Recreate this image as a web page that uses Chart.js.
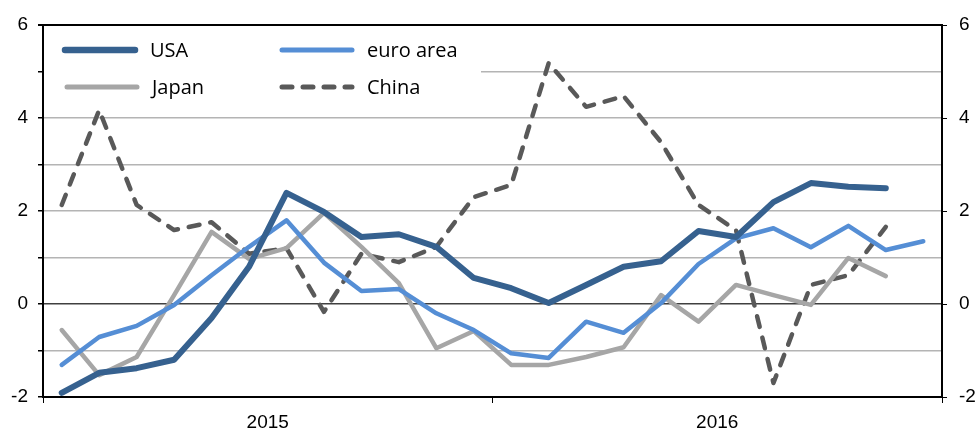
<!DOCTYPE html>
<html>
<head>
<meta charset="utf-8">
<script src="https://cdn.jsdelivr.net/npm/chart.js@4.4.1/dist/chart.umd.min.js"></script>
<style>
  html, body { margin:0; padding:0; background:#fff; }
  #wrap { width:980px; height:433px; }
</style>
</head>
<body>
<div id="wrap"><canvas id="chartGrowth" width="980" height="433"></canvas></div>
<script>
// monthly, Jan 2015 .. Dec 2016
const months = [
    "Jan 15","Feb 15","Mar 15","Apr 15","May 15","Jun 15",
    "Jul 15","Aug 15","Sep 15","Oct 15","Nov 15","Dec 15",
    "Jan 16","Feb 16","Mar 16","Apr 16","May 16","Jun 16",
    "Jul 16","Aug 16","Sep 16","Oct 16","Nov 16","Dec 16"
];

const years = ["2015","2016"];

const usa = [
    -1.91,-1.48,-1.38,-1.20,-0.30,0.80,2.39,1.98,1.44,1.50,1.23,0.56,
    0.34,0.02,0.41,0.80,0.92,1.57,1.44,2.19,2.60,2.52,2.49,null
];

const euroArea = [
    -1.31,-0.71,-0.47,-0.02,0.62,1.23,1.80,0.89,0.28,0.32,-0.20,-0.56,
    -1.06,-1.16,-0.38,-0.62,0.02,0.86,1.41,1.63,1.22,1.68,1.16,1.35
];

const japan = [
    -0.56,-1.53,-1.14,0.19,1.55,0.97,1.20,1.96,1.23,0.45,-0.95,-0.58,
    -1.31,-1.31,-1.14,-0.93,0.19,-0.38,0.41,0.19,-0.02,0.99,0.60,null
];

const china = [
    2.13,4.17,2.13,1.59,1.76,1.08,1.20,-0.17,1.08,0.90,1.23,2.30,
    2.56,5.18,4.24,4.47,3.48,2.13,1.59,-1.70,0.41,0.62,1.66,null
];

const yTicks = [-2,0,2,4,6];

function toPoints(arr){
    return arr.map((v,i)=>({x:i,y:v}));
}

const series = [
    {label:"USA", data:usa, color:"#36618f", width:6, dash:[]},
    {label:"euro area", data:euroArea, color:"#558ed5", width:4.5, dash:[]},
    {label:"Japan", data:japan, color:"#a6a6a6", width:4.5, dash:[]},
    {label:"China", data:china, color:"#595959", width:4.5, dash:[11,11]}
];

// legend drawn inside plot, white box over gridlines
const boxLegend = {
    id:"boxLegend",
    beforeDatasetsDraw(chart){
        const c = chart.ctx;
        const a = chart.chartArea;
        c.save();
        c.fillStyle = "#fff";
        c.fillRect(a.left+1, a.top+1, 437, 78);

        const items = [
            {s:series[0], x:65, y:50},
            {s:series[1], x:282, y:50},
            {s:series[2], x:67, y:87},
            {s:series[3], x:282, y:87}
        ];

        items.forEach(it=>{
            c.beginPath();
            c.lineWidth = it.s.width + 0.5;
            c.lineCap = "round";
            c.strokeStyle = it.s.color;
            c.setLineDash(it.s.dash.length ? [10,11] : []);
            c.moveTo(it.x, it.y);
            c.lineTo(it.x + 70, it.y);
            c.stroke();
            c.setLineDash([]);
            c.fillStyle = "#000";
            c.font = "20px 'Open Sans'";
            c.textBaseline = "middle";
            c.fillText(it.s.label, it.x + 85, it.y + 1);
        });
        c.restore();
    }
};

const canvas = document.getElementById("chartGrowth");

new Chart(canvas,{
    type:"line",
    data:{
        datasets:series.map(s=>({
            label:s.label,
            data:toPoints(s.data),
            borderColor:s.color,
            borderWidth:s.width,
            borderDash:s.dash,
            borderCapStyle:"round",
            borderJoinStyle:"round",
            pointRadius:0,
            tension:0,
            spanGaps:false,
            yAxisID:"y"
        }))
    },
    options:{
        responsive:false,
        animation:false,
        devicePixelRatio:1,
        layout:{ padding:{top:25, right:0, left:0, bottom:0} },
        plugins:{
            legend:{ display:false },
            tooltip:{
                callbacks:{
                    title(items){ return months[items[0].parsed.x]; }
                }
            }
        },
        scales:{
            x:{
                type:"linear",
                min:-0.5,
                max:23.5,
                afterBuildTicks(scale){
                    scale.ticks = [-0.5,5.5,11.5,17.5,23.5].map(v=>({value:v}));
                },
                afterFit(scale){ scale.height = 36; },
                ticks:{
                    autoSkip:false,
                    maxRotation:0,
                    color:"#000",
                    font:{family:"Liberation Sans", size:19},
                    padding:8,
                    callback(v){
                        if (v === 5.5) return years[0];
                        if (v === 17.5) return years[1];
                        return "";
                    }
                },
                grid:{
                    drawOnChartArea:false,
                    tickLength:6,
                    color(ctx){
                        const v = ctx.tick ? ctx.tick.value : 0;
                        return (v === 5.5 || v === 17.5) ? "rgba(0,0,0,0)" : "#000";
                    }
                },
                border:{ color:"#000", width:2 }
            },
            y:{
                position:"left",
                min:-2,
                max:6,
                afterFit(scale){ scale.width = 43; },
                ticks:{
                    stepSize:1,
                    color:"#000",
                    font:{family:"Liberation Sans", size:19},
                    padding:10,
                    callback(v){ return yTicks.includes(v) ? v : ""; }
                },
                grid:{
                    tickLength:5,
                    lineWidth(ctx){ return ctx.tick && ctx.tick.value === 6 ? 2 : 1.5; },
                    color(ctx){
                        const v = ctx.tick ? ctx.tick.value : 1;
                        if (v === 6) return "#000";
                        if (v === 0) return "#404040";
                        return "#b4b4b4";
                    },
                    tickColor:"#000"
                },
                border:{ color:"#000", width:2 }
            },
            y2:{
                position:"right",
                min:-2,
                max:6,
                afterFit(scale){ scale.width = 38; },
                ticks:{
                    stepSize:2,
                    color:"#000",
                    font:{family:"Liberation Sans", size:19},
                    padding:12
                },
                grid:{
                    drawOnChartArea:false,
                    tickLength:5,
                    color:"#000"
                },
                border:{ color:"#000", width:2 }
            }
        }
    },
    plugins:[boxLegend]
});
</script>
</body>
</html>
